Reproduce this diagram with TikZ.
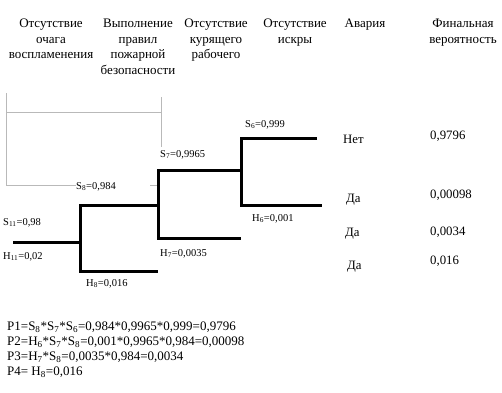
\documentclass[tikz,border=0pt]{standalone}
\usepackage{fontspec}
\setmainfont{Liberation Serif}
\usetikzlibrary{positioning}
\definecolor{framegray}{RGB}{185,185,185}

\begin{document}
\begin{tikzpicture}[x=1pt, y=-1pt,
  hdr/.style={anchor=north, align=center, inner sep=0pt, font=\fontsize{13}{15.5}\selectfont},
  lbl/.style={anchor=base west, inner sep=0pt, font=\fontsize{10.5}{12}\selectfont},
  res/.style={anchor=base west, inner sep=0pt, font=\fontsize{12.8}{14}\selectfont},
  branch/.style={line width=3pt, line join=miter},
  frame/.style={framegray, line width=1pt}]

\useasboundingbox (0,0) rectangle (502,392);

% column headers
\node[hdr] (h1) at (51,19) {Отсутствие\\очага\\воспламенения};
\node[hdr] (h2) at (138,19) {Выполнение\\правил\\пожарной\\безопасности};
\node[hdr] (h3) at (216,19) {Отсутствие\\курящего\\рабочего};
\node[hdr] (h4) at (295,19) {Отсутствие\\искры};
\node[hdr] (h5) at (365,19) {Авария};
\node[hdr] (h6) at (463,19) {Финальная\\вероятность};

% gray frame
\draw[frame] (6,93) -- (6,185) -- (76,185);
\draw[frame] (6,112) -- (161,112);
\draw[frame] (161,97) -- (161,147);
\draw[frame] (150,185) -- (157,185);

% tree points
\coordinate (root) at (13,242);
\coordinate (n1) at (80,242);
\coordinate (n2) at (158,205);
\coordinate (n3) at (241,170);
\coordinate (e8) at (158,271);
\coordinate (e7) at (241,238);
\coordinate (e6s) at (317,138);
\coordinate (e6h) at (322,205);

\draw[branch] (root) -- (n1);
\draw[branch] (n2) -| (n1) |- (e8);
\draw[branch] (n3) -| (n2) |- (e7);
\draw[branch] (e6s) -| (n3) |- (e6h);

% branch labels
\node[lbl] (s11) at (3,225) {S\textsubscript{11}=0,98};
\node[lbl] (h11) at (3,259) {H\textsubscript{11}=0,02};
\node[lbl] (h8) at (86,286) {H\textsubscript{8}=0,016};
\node[lbl, fill=white, inner xsep=0pt, inner ysep=2pt] (s8) at (76,189) {S\textsubscript{8}=0,984\hspace{31pt}};
\node[lbl] (s7) at (160,157) {S\textsubscript{7}=0,9965};
\node[lbl] (h7) at (160,256) {H\textsubscript{7}=0,0035};
\node[lbl] (s6) at (245,127) {S\textsubscript{6}=0,999};
\node[lbl] (h6) at (252,221) {H\textsubscript{6}=0,001};

% outcomes
\node[res] (a1) at (343,143) {Нет};
\node[res] (a2) at (346,202) {Да};
\node[res] (a3) at (345,236) {Да};
\node[res] (a4) at (347,269) {Да};
\node[res] (p1) at (430,139) {0,9796};
\node[res] (p2) at (430,198) {0,00098};
\node[res] (p3) at (430,235) {0,0034};
\node[res] (p4) at (430,264) {0,016};

% formulas
\node[anchor=north west, align=left, inner sep=0pt, font=\fontsize{13}{15}\selectfont] (calc) at (7,322)
  {P1=S\textsubscript{8}*S\textsubscript{7}*S\textsubscript{6}=0,984*0,9965*0,999=0,9796\\
   P2=H\textsubscript{6}*S\textsubscript{7}*S\textsubscript{8}=0,001*0,9965*0,984=0,00098\\
   P3=H\textsubscript{7}*S\textsubscript{8}=0,0035*0,984=0,0034\\
   P4= H\textsubscript{8}=0,016};

\end{tikzpicture}
\end{document}
